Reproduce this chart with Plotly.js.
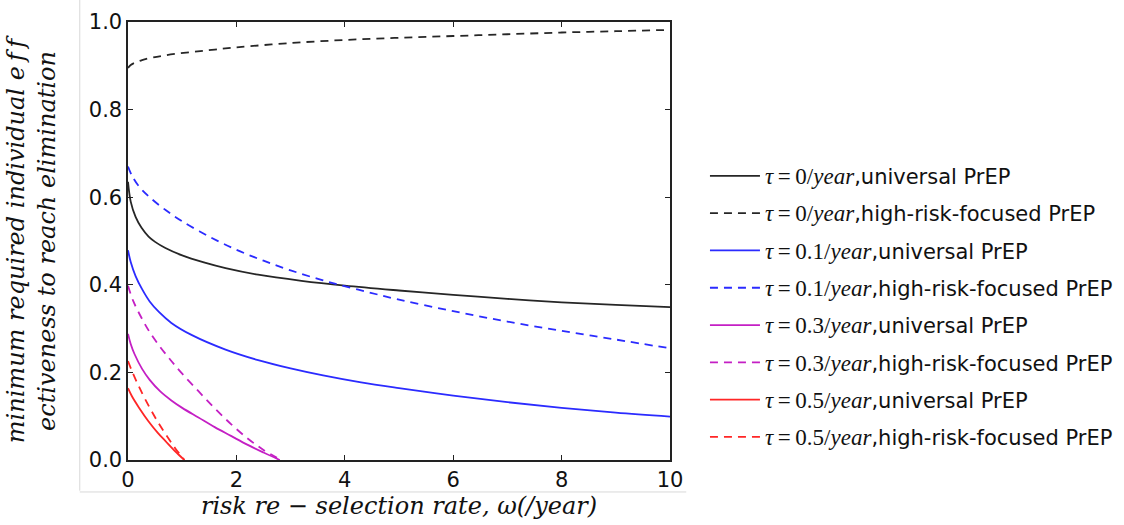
<!DOCTYPE html>
<html>
<head>
<meta charset="utf-8">
<script src="https://cdn.plot.ly/plotly-3.0.1.min.js"></script>
<style>
  html, body { margin: 0; padding: 0; background: #fff; }
  #chart { width: 1124px; height: 525px; }
</style>
</head>
<body>
<div id="chart"></div>
<script>
// risk re-selection rate (omega, per year) and minimum required efficacy
const omegaT0Univ = [0, 0.05, 0.14, 0.25, 0.38, 0.5, 0.69, 1.0, 1.4, 1.8, 2.4, 3.2, 4.0, 5.0, 6.0, 7.0, 8.0, 9.0, 10];
const effT0Univ   = [0.635, 0.59, 0.555, 0.53, 0.51, 0.498, 0.484, 0.467, 0.451, 0.438, 0.423, 0.409, 0.398, 0.387, 0.377, 0.368, 0.36, 0.354, 0.349];

const omegaT0High = [0, 0.05, 0.26, 0.69, 1.6, 2, 3, 4, 5, 6, 7, 8, 9, 10];
const effT0High   = [0.895, 0.902, 0.913, 0.924, 0.937, 0.942, 0.952, 0.959, 0.964, 0.968, 0.972, 0.976, 0.979, 0.982];

const omegaT01Univ = [0, 0.05, 0.14, 0.26, 0.4, 0.57, 0.8, 1.18, 1.8, 2.4, 3.0, 3.6, 4.3, 5.0, 6.0, 7.0, 8.0, 9.0, 10];
const effT01Univ   = [0.479, 0.452, 0.42, 0.39, 0.362, 0.338, 0.313, 0.285, 0.252, 0.228, 0.209, 0.193, 0.177, 0.164, 0.147, 0.132, 0.119, 0.108, 0.099];

const omegaT01High = [0, 0.07, 0.2, 0.4, 0.7, 1.0, 1.5, 2.0, 2.5, 3.0, 3.6, 4.25, 5, 6, 7, 8, 9, 10];
const effT01High   = [0.67, 0.65, 0.625, 0.6, 0.57, 0.545, 0.51, 0.48, 0.455, 0.433, 0.41, 0.389, 0.366, 0.34, 0.316, 0.295, 0.275, 0.255];

const omegaT03Univ = [0, 0.05, 0.12, 0.26, 0.4, 0.6, 0.8, 1.0, 1.3, 1.6, 1.9, 2.2, 2.5, 2.8];
const effT03Univ   = [0.288, 0.265, 0.242, 0.208, 0.183, 0.156, 0.136, 0.119, 0.097, 0.075, 0.055, 0.035, 0.017, 0];

const omegaT03High = [0, 0.1, 0.26, 0.4, 0.6, 0.8, 1.0, 1.3, 1.6, 1.9, 2.2, 2.5, 2.82];
const effT03High   = [0.398, 0.362, 0.322, 0.292, 0.257, 0.226, 0.197, 0.157, 0.118, 0.082, 0.05, 0.023, 0];

const omegaT05Univ = [0, 0.07, 0.2, 0.38, 0.55, 0.7, 0.87, 1.04];
const effT05Univ   = [0.164, 0.146, 0.12, 0.088, 0.062, 0.042, 0.02, 0];

const omegaT05High = [0, 0.07, 0.2, 0.38, 0.55, 0.7, 0.87, 1.04];
const effT05High   = [0.226, 0.204, 0.168, 0.124, 0.087, 0.058, 0.027, 0];

const tauLabels = ['0', '0.1', '0.3', '0.5'];
const strategyLabels = ['universal PrEP', 'high-risk-focused PrEP'];
const xTickVals = [0, 2, 4, 6, 8, 10];
const yTickVals = [0, 0.2, 0.4, 0.6, 0.8, 1.0];

const colors = ['#262626', '#2b2bff', '#c41fc4', '#ff2626'];

function legendName(tau, strategy) {
  return '<span style="font-family:Liberation Serif;font-size:23px"><i>τ</i>\u2009=\u2009' + tau +
         '/<i>year</i></span>,' + strategy;
}

const series = [
  [omegaT0Univ, effT0Univ, 0, 0],
  [omegaT0High, effT0High, 0, 1],
  [omegaT01Univ, effT01Univ, 1, 0],
  [omegaT01High, effT01High, 1, 1],
  [omegaT03Univ, effT03Univ, 2, 0],
  [omegaT03High, effT03High, 2, 1],
  [omegaT05Univ, effT05Univ, 3, 0],
  [omegaT05High, effT05High, 3, 1]
];

const traces = series.map((s, i) => ({
  x: s[0],
  y: s[1],
  type: 'scatter',
  mode: 'lines',
  name: legendName(tauLabels[s[2]], strategyLabels[s[3]]),
  legendgroup: 'g' + i,
  line: {
    color: colors[s[2]],
    width: 1.8,
    shape: 'spline',
    smoothing: 1,
    dash: s[3] === 1 ? '8px,6px' : 'solid'
  },
  hoverinfo: 'x+y'
}));

const axisFont = { family: 'DejaVu Sans, sans-serif', size: 21, color: '#111' };
const titleFont = { family: 'DejaVu Serif, serif', size: 24, color: '#111' };

const layout = {
  width: 1124,
  height: 525,
  margin: { l: 127.5, r: 454, t: 22, b: 65, autoexpand: false },
  paper_bgcolor: '#fff',
  plot_bgcolor: '#fff',
  showlegend: true,
  legend: {
    x: 1.0645,
    xanchor: 'left',
    y: 0.35,
    yanchor: 'middle',
    itemwidth: 50,
    tracegroupgap: 7,
    font: { family: 'DejaVu Sans, sans-serif', size: 21, color: '#111' },
    bgcolor: 'rgba(0,0,0,0)',
    borderwidth: 0
  },
  xaxis: {
    range: [0, 10],
    tickvals: xTickVals,
    ticktext: xTickVals.map(String),
    ticks: 'inside',
    ticklen: 5,
    tickwidth: 1,
    tickcolor: '#222',
    mirror: 'ticks',
    showline: true,
    linecolor: '#222',
    linewidth: 1.6,
    showgrid: false,
    zeroline: false,
    tickfont: axisFont,
    title: {
      text: '<i>risk re − selection rate, ω(/year)</i>\u00a0\u00a0\u00a0\u00a0',
      font: titleFont,
      standoff: 4
    }
  },
  yaxis: {
    range: [0, 1],
    tickvals: yTickVals,
    ticktext: yTickVals.map(v => v.toFixed(1)),
    ticks: 'inside',
    ticklen: 5,
    tickwidth: 1,
    tickcolor: '#222',
    mirror: 'ticks',
    showline: true,
    linecolor: '#222',
    linewidth: 1.6,
    showgrid: false,
    zeroline: false,
    tickfont: axisFont,
    title: {
      text: '<i>minimum required individual e\u2009f\u2009f</i><br><i>ectiveness to reach elimination</i>',
      font: titleFont,
      standoff: 26
    }
  },
  shapes: [
    { type: 'line', xref: 'paper', yref: 'paper', x0: -0.089, x1: -0.089, y0: -0.07, y1: 1.06,
      line: { color: '#d8d8d8', width: 1 } },
    { type: 'line', xref: 'paper', yref: 'paper', x0: -0.089, x1: 1.03, y0: -0.073, y1: -0.073,
      line: { color: '#d8d8d8', width: 1 } }
  ]
};

Plotly.newPlot('chart', traces, layout, { displayModeBar: false, staticPlot: true });
</script>
</body>
</html>
